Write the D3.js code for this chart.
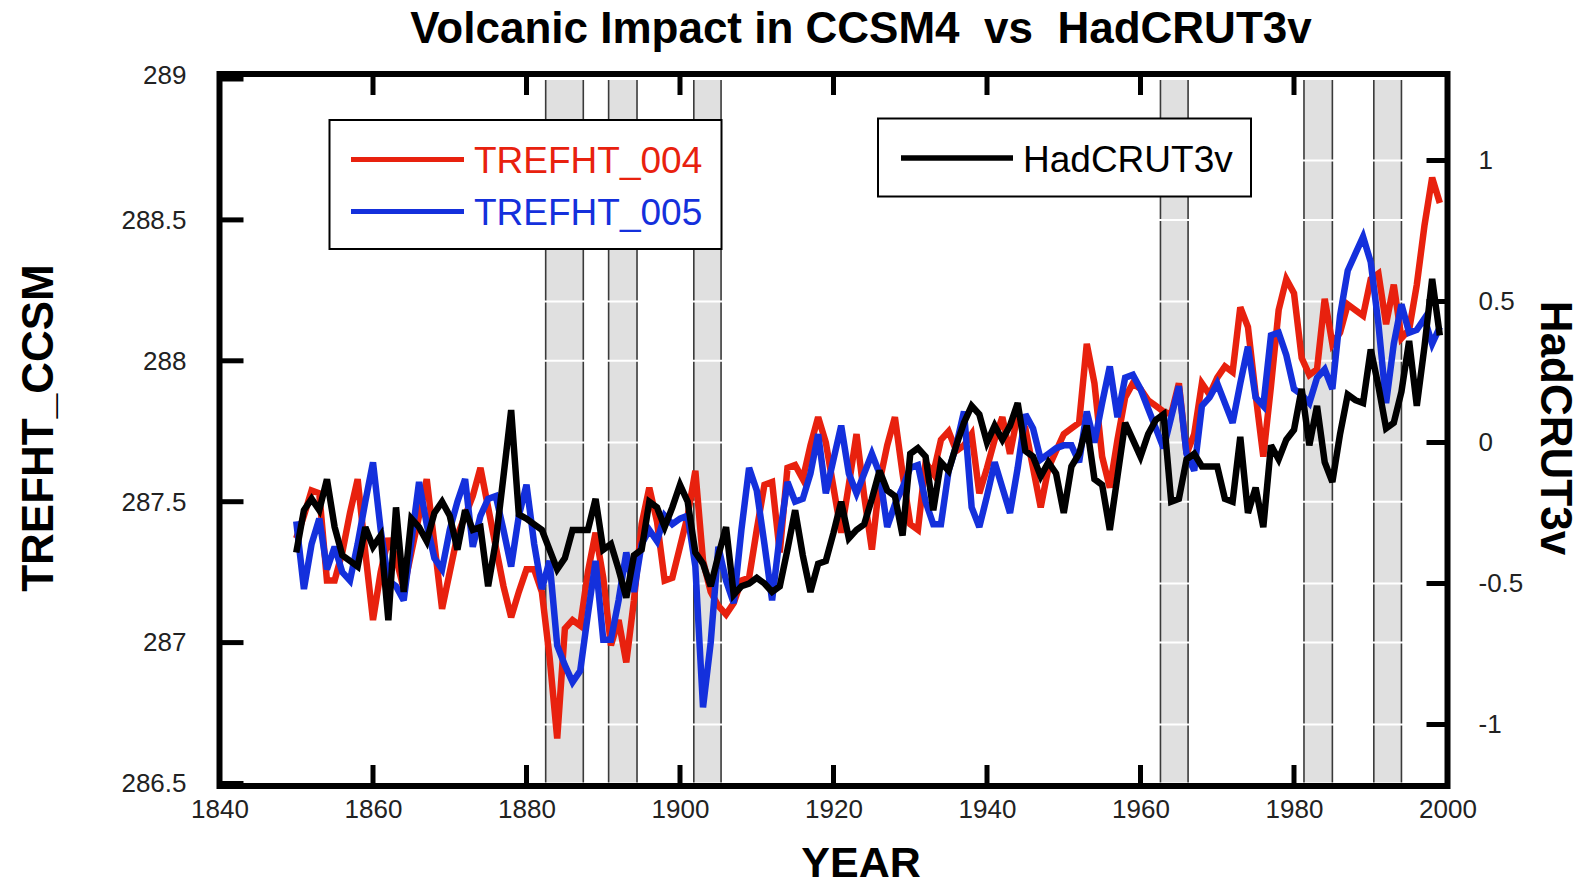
<!DOCTYPE html>
<html>
<head>
<meta charset="utf-8">
<script src="https://cdn.jsdelivr.net/npm/d3@7/dist/d3.min.js"></script>
<style>
  html, body { margin: 0; padding: 0; background: #fff; }
  svg { display: block; font-family: "Liberation Sans", Arial, Helvetica, sans-serif; }
</style>
</head>
<body>
<svg id="chart" width="1585" height="887"></svg>
<script>
// Annual series, 1850-1999
const firstYear = 1850;

// CCSM4 run 004, reference height temperature (K), left axis
const trefht004 = [
  287.37, 287.45, 287.54, 287.53, 287.22, 287.22, 287.32, 287.46, 287.58, 287.32,
  287.08, 287.25, 287.37, 287.30, 287.19, 287.32, 287.45, 287.58, 287.35, 287.12,
  287.25, 287.38, 287.45, 287.52, 287.62, 287.48, 287.34, 287.20, 287.09, 287.18,
  287.26, 287.26, 287.18, 286.95, 286.66, 287.05, 287.08, 287.06, 287.25, 287.39,
  287.23, 286.99, 287.08, 286.93, 287.15, 287.42, 287.55, 287.43, 287.22, 287.23,
  287.34, 287.45, 287.61, 287.29, 287.18, 287.13, 287.10, 287.14, 287.22, 287.23,
  287.40, 287.56, 287.57, 287.32, 287.62, 287.63, 287.58, 287.70, 287.80, 287.71,
  287.55, 287.39, 287.56, 287.74, 287.52, 287.33, 287.57, 287.70, 287.80, 287.60,
  287.42, 287.40, 287.64, 287.60, 287.72, 287.75, 287.68, 287.70, 287.74, 287.53,
  287.62, 287.72, 287.80, 287.67, 287.81, 287.76, 287.62, 287.48, 287.62, 287.68,
  287.74, 287.76, 287.78, 288.06, 287.92, 287.66, 287.55, 287.72, 287.87, 287.92,
  287.90, 287.86, 287.84, 287.82, 287.81, 287.92, 287.67, 287.74, 287.92, 287.88,
  287.94, 287.98, 287.96, 288.19, 288.12, 287.88, 287.66, 287.91, 288.18, 288.29,
  288.24, 288.01, 287.95, 287.97, 288.22, 288.06, 288.10, 288.20, 288.18, 288.16,
  288.29, 288.31, 288.13, 288.27, 288.08, 288.11, 288.27, 288.48, 288.65, 288.56
];

// CCSM4 run 005, reference height temperature (K), left axis
const trefht005 = [
  287.43, 287.19, 287.35, 287.44, 287.26, 287.34, 287.25, 287.22, 287.35, 287.50,
  287.64, 287.40, 287.22, 287.20, 287.15, 287.36, 287.57, 287.42, 287.30, 287.26,
  287.40, 287.50, 287.58, 287.34, 287.45, 287.51, 287.52, 287.40, 287.27, 287.45,
  287.56, 287.35, 287.19, 287.29, 286.99, 286.92, 286.86, 286.90, 287.10, 287.29,
  287.01, 287.01, 287.15, 287.32, 287.18, 287.35, 287.40, 287.36, 287.45, 287.42,
  287.44, 287.45, 287.27, 286.77, 287.00, 287.34, 287.22, 287.14, 287.40, 287.62,
  287.54, 287.35, 287.15, 287.38, 287.57, 287.50, 287.51, 287.60, 287.74, 287.53,
  287.65, 287.77, 287.60, 287.53, 287.60, 287.67, 287.60, 287.41, 287.49, 287.55,
  287.62, 287.63, 287.50, 287.42, 287.42, 287.61, 287.70, 287.82, 287.48, 287.41,
  287.52, 287.64, 287.55, 287.46, 287.62, 287.81, 287.76, 287.65, 287.67, 287.69,
  287.70, 287.70, 287.64, 287.82, 287.71, 287.85, 287.98, 287.80, 287.94, 287.95,
  287.90, 287.83, 287.76, 287.69, 287.80, 287.91, 287.67, 287.61, 287.84, 287.87,
  287.92, 287.85, 287.78, 287.92, 288.05, 287.87, 287.84, 288.09, 288.10, 288.02,
  287.90, 287.88, 287.85, 287.94, 287.97, 287.90, 288.16, 288.32, 288.38, 288.44,
  288.35, 288.13, 287.85, 288.06, 288.20, 288.10, 288.11, 288.15, 288.06, 288.12
];

// HadCRUT3v anomaly (K), right axis
const hadcrut3v = [
  -0.39, -0.24, -0.20, -0.24, -0.13, -0.30, -0.40, -0.42, -0.44, -0.30,
  -0.37, -0.33, -0.63, -0.23, -0.53, -0.27, -0.30, -0.35, -0.25, -0.21,
  -0.26, -0.38, -0.24, -0.31, -0.30, -0.51, -0.35, -0.12, 0.115, -0.255,
  -0.27, -0.29, -0.31, -0.38, -0.45, -0.41, -0.31, -0.31, -0.31, -0.20,
  -0.38, -0.36, -0.45, -0.55, -0.40, -0.38, -0.21, -0.23, -0.30, -0.23,
  -0.15, -0.21, -0.39, -0.43, -0.51, -0.40, -0.30, -0.54, -0.51, -0.50,
  -0.48, -0.50, -0.53, -0.51, -0.38, -0.24, -0.40, -0.53, -0.43, -0.42,
  -0.32, -0.21, -0.34, -0.31, -0.29, -0.20, -0.10, -0.17, -0.19, -0.33,
  -0.04, -0.02, -0.05, -0.24, -0.07, -0.10, -0.01, 0.07, 0.13, 0.10,
  0.00, 0.06, 0.01, 0.06, 0.14, -0.03, -0.05, -0.12, -0.07, -0.11,
  -0.25, -0.085, -0.04, 0.06, -0.13, -0.15, -0.31, -0.12, 0.07, 0.01,
  -0.05, 0.03, 0.08, 0.10, -0.21, -0.20, -0.06, -0.04, -0.085, -0.085,
  -0.085, -0.20, -0.21, 0.02, -0.25, -0.16, -0.30, -0.01, -0.06, 0.01,
  0.045, 0.19, -0.01, 0.13, -0.07, -0.14, 0.03, 0.17, 0.15, 0.14,
  0.33, 0.20, 0.05, 0.07, 0.18, 0.36, 0.13, 0.34, 0.58, 0.38
];

// Periods following major eruptions (Krakatoa, Santa Maria, Agung, El Chichon, Pinatubo ...)
const volcanicPeriods = [
  [1882.5, 1887.4], [1890.7, 1894.4], [1901.8, 1905.35],
  [1962.6, 1966.2], [1981.3, 1985.0], [1990.4, 1994.0]
];

const xTicks = [1840, 1860, 1880, 1900, 1920, 1940, 1960, 1980, 2000];
const leftTicks = [286.5, 287, 287.5, 288, 288.5, 289];
const rightTicks = [-1, -0.5, 0, 0.5, 1];
const rightTickLabels = ["-1", "-0.5", "0", "0.5", "1"];

const colors = { r004: "#e8210e", r005: "#1430dc", had: "#000000" };

// ---- layout ----
const frame = { left: 219.5, right: 1447.5, top: 74, bottom: 786 };

const svg = d3.select("#chart");

const x = d3.scaleLinear().domain([1840, 2000]).range([frame.left, frame.right]);
const yL = d3.scaleLinear().domain([286.5, 289]).range([783.5, 79]);
const yR = d3.scaleLinear().domain([-1, 1]).range([724.5, 160.5]);

const rows = trefht004.map((v, i) => ({
  year: firstYear + i, a: v, b: trefht005[i], h: hadcrut3v[i]
}));

// volcanic bands
const bands = svg.append("g");
volcanicPeriods.forEach(([s, e]) => {
  bands.append("rect")
    .attr("x", x(s)).attr("y", yL(289))
    .attr("width", x(e) - x(s)).attr("height", yL(286.5) - yL(289))
    .attr("fill", "#e0e0e0");
  [s, e].forEach(t => bands.append("line")
    .attr("x1", x(t)).attr("x2", x(t))
    .attr("y1", yL(289)).attr("y2", yL(286.5))
    .attr("stroke", "#3a3a3a").attr("stroke-width", 1.6));
});

// white grid lines (visible over the bands)
const grid = svg.append("g").attr("stroke", "#fff").attr("stroke-width", 2);
leftTicks.forEach(t => grid.append("line")
  .attr("x1", frame.left).attr("x2", frame.right)
  .attr("y1", yL(t)).attr("y2", yL(t)));
rightTicks.forEach(t => grid.append("line")
  .attr("x1", frame.left).attr("x2", frame.right)
  .attr("y1", yR(t)).attr("y2", yR(t)));

// data lines
const lineA = d3.line().x(d => x(d.year)).y(d => yL(d.a));
const lineB = d3.line().x(d => x(d.year)).y(d => yL(d.b));
const lineH = d3.line().x(d => x(d.year)).y(d => yR(d.h));

[[lineA, colors.r004], [lineB, colors.r005], [lineH, colors.had]].forEach(([gen, c]) => {
  svg.append("path").datum(rows)
    .attr("d", gen)
    .attr("fill", "none")
    .attr("stroke", c)
    .attr("stroke-width", 6.5)
    .attr("stroke-linejoin", "miter")
    .attr("stroke-miterlimit", 3);
});

// axes: ticks drawn inward
const tickStyle = sel => sel.attr("stroke", "#000").attr("stroke-width", 5);
const axes = svg.append("g");

const axisBottom = d3.axisBottom(x).tickValues(xTicks).tickSize(0).tickFormat(d3.format("d"));
const gx = svg.append("g").attr("transform", `translate(0,${frame.bottom})`).call(axisBottom);
gx.select(".domain").remove();
gx.selectAll("text").attr("dy", null).attr("y", 32)
  .attr("font-size", 26).attr("fill", "#222")
  .attr("font-family", "Liberation Sans, Arial, sans-serif");

const axisLeft = d3.axisLeft(yL).tickValues(leftTicks).tickSize(0).tickFormat(d => String(d));
const gyl = svg.append("g").attr("transform", `translate(${frame.left - 33},0)`).call(axisLeft);
gyl.select(".domain").remove();
gyl.selectAll("text").attr("x", 0).attr("font-size", 26).attr("fill", "#222")
  .attr("font-family", "Liberation Sans, Arial, sans-serif");
// the top label sits level with the frame edge
gyl.selectAll(".tick").filter(d => d === 289).select("text").attr("y", -4);

const axisRight = d3.axisRight(yR).tickValues(rightTicks).tickSize(0)
  .tickFormat((d, i) => rightTickLabels[i]);
const gyr = svg.append("g").attr("transform", `translate(${frame.right + 31},0)`).call(axisRight);
gyr.select(".domain").remove();
gyr.selectAll("text").attr("x", 0).attr("font-size", 26).attr("fill", "#222")
  .attr("font-family", "Liberation Sans, Arial, sans-serif");

// inward tick marks
xTicks.forEach(t => {
  tickStyle(axes.append("line").attr("x1", x(t)).attr("x2", x(t))
    .attr("y1", frame.bottom).attr("y2", frame.bottom - 21));
  tickStyle(axes.append("line").attr("x1", x(t)).attr("x2", x(t))
    .attr("y1", frame.top).attr("y2", frame.top + 21));
});
leftTicks.forEach(t => tickStyle(axes.append("line")
  .attr("x1", frame.left).attr("x2", frame.left + 24)
  .attr("y1", yL(t)).attr("y2", yL(t))));
rightTicks.forEach(t => tickStyle(axes.append("line")
  .attr("x1", frame.right).attr("x2", frame.right - 21)
  .attr("y1", yR(t)).attr("y2", yR(t))));

// frame
svg.append("rect")
  .attr("x", frame.left).attr("y", frame.top)
  .attr("width", frame.right - frame.left).attr("height", frame.bottom - frame.top)
  .attr("fill", "none").attr("stroke", "#000").attr("stroke-width", 6);

// titles
svg.append("text").attr("x", 861).attr("y", 43).attr("text-anchor", "middle")
  .attr("font-size", 44).attr("font-weight", "bold").attr("fill", "#000")
  .text("Volcanic Impact in CCSM4\u00a0\u00a0vs\u00a0\u00a0HadCRUT3v");

svg.append("text").attr("x", 861).attr("y", 877).attr("text-anchor", "middle")
  .attr("font-size", 43).attr("font-weight", "bold").text("YEAR");

svg.append("text").attr("transform", "translate(53,428) rotate(-90)")
  .attr("text-anchor", "middle").attr("font-size", 44).attr("font-weight", "bold")
  .text("TREFHT_CCSM");

svg.append("text").attr("transform", "translate(1541,428) rotate(90)")
  .attr("text-anchor", "middle").attr("font-size", 44).attr("font-weight", "bold")
  .text("HadCRUT3v");

// legends
const leg1 = svg.append("g");
leg1.append("rect").attr("x", 329.5).attr("y", 120).attr("width", 392).attr("height", 129)
  .attr("fill", "#fff").attr("stroke", "#000").attr("stroke-width", 2);
[["TREFHT_004", colors.r004, 159.5], ["TREFHT_005", colors.r005, 211.5]].forEach(([name, c, yy]) => {
  leg1.append("line").attr("x1", 351).attr("x2", 464).attr("y1", yy).attr("y2", yy)
    .attr("stroke", c).attr("stroke-width", 5);
  leg1.append("text").attr("x", 474).attr("y", yy + 13.5).attr("font-size", 37)
    .attr("fill", c).text(name);
});

const leg2 = svg.append("g");
leg2.append("rect").attr("x", 878).attr("y", 118.5).attr("width", 373).attr("height", 78)
  .attr("fill", "#fff").attr("stroke", "#000").attr("stroke-width", 2);
leg2.append("line").attr("x1", 901).attr("x2", 1013).attr("y1", 158).attr("y2", 158)
  .attr("stroke", colors.had).attr("stroke-width", 5.5);
leg2.append("text").attr("x", 1023).attr("y", 171.5).attr("font-size", 37)
  .attr("fill", "#000").text("HadCRUT3v");
</script>
</body>
</html>
